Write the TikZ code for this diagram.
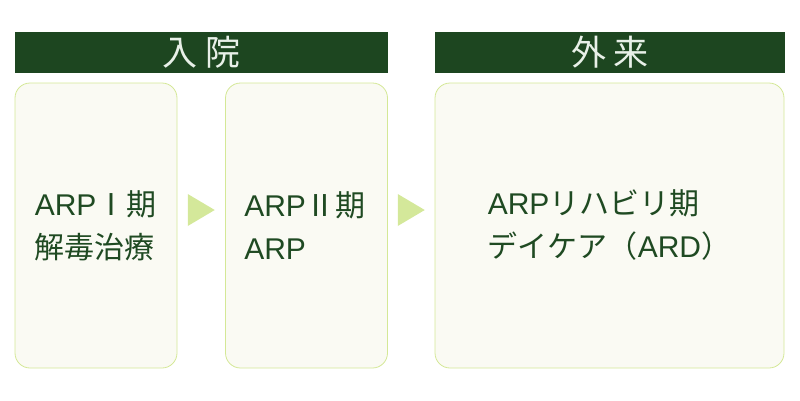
\documentclass[tikz,border=0pt]{standalone}
\usepackage{fontspec}
\setmainfont{Liberation Sans}
\newfontfamily\jp{Noto Sans CJK JP}
\usetikzlibrary{calc}
\definecolor{barGreen}{HTML}{1D4620}
\definecolor{textGreen}{HTML}{1F4A22}
\definecolor{boxFill}{HTML}{FAFAF3}
\definecolor{boxLine}{HTML}{D4E896}
\definecolor{triGreen}{HTML}{D4E89A}
\definecolor{headText}{HTML}{E8F0E8}
\tikzset{
  header/.style={fill=barGreen, text=headText, inner sep=0, minimum height=41, font=\jp\fontsize{35}{35}\selectfont},
  stage/.style={draw=boxLine, fill=boxFill, rounded corners=15, line width=0.8, minimum height=285, inner sep=0},
  stagetext/.style={text=textGreen, inner sep=0, align=left, font=\fontsize{30}{43}\selectfont},
  arrowtri/.style={fill=triGreen}
}
\begin{document}
\begin{tikzpicture}[x=1pt,y=-1pt]
\useasboundingbox (0,0) rectangle (800,400);
\node[header, minimum width=373] (hin) at (201.5,52.5) {入\hspace{8pt}院};
\node[header, minimum width=350] (hout) at (610,52.5) {外\hspace{8pt}来};
\node[stage, minimum width=162] (b1) at (96,225.5) {};
\node[stage, minimum width=162] (b2) at (306.5,225.5) {};
\node[stage, minimum width=349] (b3) at (609.5,225.5) {};
\node[stagetext, anchor=west] (t1) at ($(b1.west)+(20,0)$) {ARP{\jp Ⅰ期}\\{\jp 解毒治療}};
\node[stagetext, anchor=west] (t2) at ($(b2.west)+(19,0)$) {ARP{\jp Ⅱ期}\\ARP};
\node[stagetext, anchor=west] (t3) at ($(b3.west)+(53,0)$) {ARP{\jp リハビリ期}\\{\jp デイケア（}ARD{\jp ）}};
\fill[arrowtri] ($(b1.east)!0.5!(b2.west)$) ++(-13.5,-31.5) -- ++(27,16) -- ++(-27,16) -- cycle;
\fill[arrowtri] ($(b2.east)!0.5!(b3.west)$) ++(-13.5,-31.5) -- ++(27,16) -- ++(-27,16) -- cycle;
\end{tikzpicture}
\end{document}
